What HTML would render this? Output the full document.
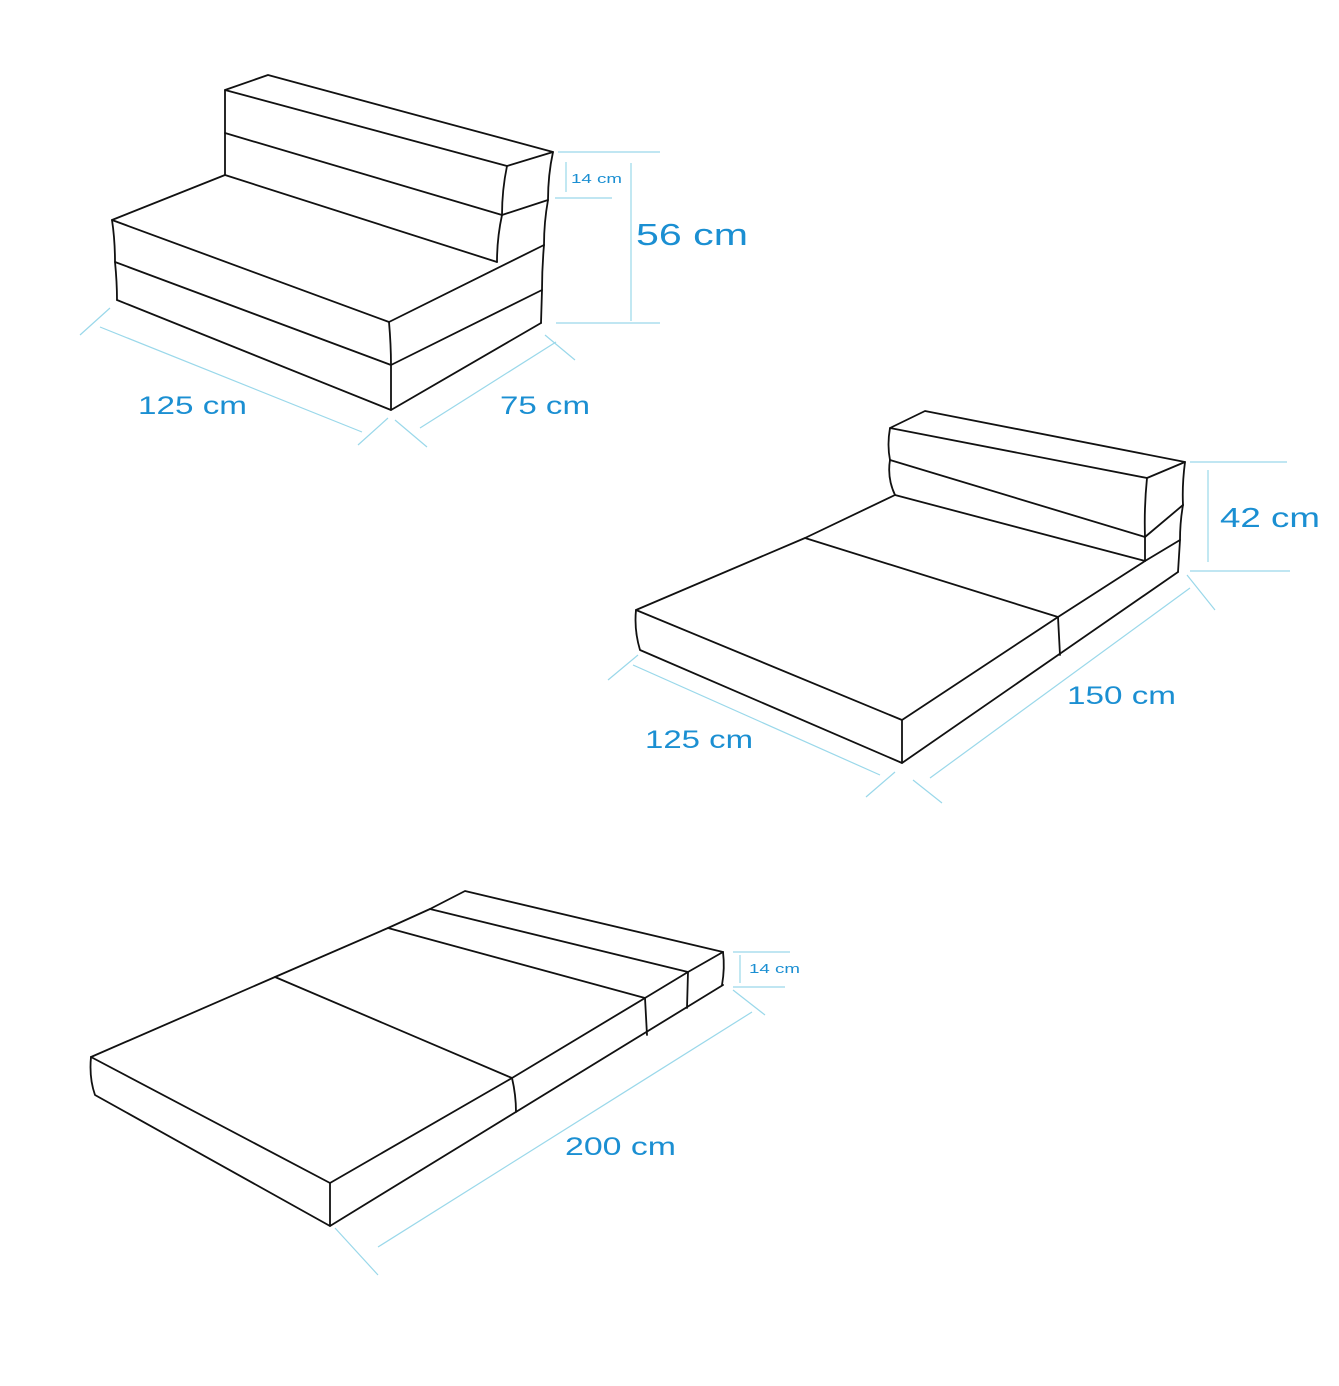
<!DOCTYPE html>
<html><head><meta charset="utf-8"><style>
html,body{margin:0;padding:0;background:#fff}
svg{display:block}
.k{fill:none;stroke:#111;stroke-width:1.8;stroke-linejoin:round;stroke-linecap:round}
.b{fill:none;stroke:#9ad8ea;stroke-width:1.2}
text{font-family:"Liberation Sans",sans-serif;fill:#1b8fd2}
</style></head><body>
<svg width="1339" height="1386" viewBox="0 0 1339 1386" xmlns="http://www.w3.org/2000/svg">
<g class="k">
<path d="M225,90 L268,75 L553,152 L507,166 Z"/>
<path d="M225,90 L225,133 L225,175"/>
<path d="M225,133 L502,215"/>
<path d="M225,175 L497,262"/>
<path d="M553,152 Q548,175 548,200 Q544,222 544,245"/>
<path d="M507,166 Q502,190 502,215 Q497,238 497,262"/>
<path d="M502,215 L548,200"/>
<path d="M225,175 L112,220 L389,322 L544,245"/>
<path d="M112,220 Q115,240 115,262 Q117,282 117,300"/>
<path d="M115,262 L391,365 L542,290"/>
<path d="M544,245 Q542,268 542,290 L541,323"/>
<path d="M117,300 L391,410 L541,323"/>
<path d="M389,322 Q391,345 391,365 L391,410"/>
</g>
<g class="b">
<path d="M558,152 L660,152 M555,198 L612,198 M566,162 L566,192"/>
<path d="M631,163 L631,321 M556,323 L660,323"/>
<path d="M100,327 L362,432 M80,335 L110,308 M358,445 L388,418"/>
<path d="M420,428 L556,342 M395,420 L427,447 M545,335 L575,360"/>
</g>
<text x="571" y="183" font-size="13" textLength="51" lengthAdjust="spacingAndGlyphs">14 cm</text>
<text x="636" y="245" font-size="31" textLength="112" lengthAdjust="spacingAndGlyphs">56 cm</text>
<text x="138" y="414" font-size="25" textLength="109" lengthAdjust="spacingAndGlyphs">125 cm</text>
<text x="500" y="414" font-size="25" textLength="90" lengthAdjust="spacingAndGlyphs">75 cm</text>

<g class="k">
<path d="M890,428 L925,411 L1185,462 L1147,478 Z"/>
<path d="M890,428 Q887,445 890,460 Q887,478 895,495"/>
<path d="M890,460 L1145,537"/>
<path d="M895,495 L1145,561"/>
<path d="M1185,462 Q1182,485 1183,505 Q1180,522 1180,540 L1178,572"/>
<path d="M1147,478 Q1144,508 1145,537 L1145,561"/>
<path d="M1145,537 L1183,505"/>
<path d="M1145,561 L1180,540"/>
<path d="M895,495 L805,538 L1058,617 L1145,561"/>
<path d="M805,538 L636,610 L902,720 L1058,617"/>
<path d="M636,610 Q634,630 640,650 L902,763 L1178,572"/>
<path d="M902,720 L902,763"/>
<path d="M1058,617 L1060,655"/>
</g>
<g class="b">
<path d="M1190,462 L1287,462 M1190,571 L1290,571 M1208,470 L1208,562"/>
<path d="M633,665 L880,775 M608,680 L638,655 M866,797 L895,772"/>
<path d="M930,778 L1190,588 M913,780 L942,803 M1187,575 L1215,610"/>
</g>
<text x="1220" y="527" font-size="28" textLength="100" lengthAdjust="spacingAndGlyphs">42 cm</text>
<text x="645" y="748" font-size="25" textLength="108" lengthAdjust="spacingAndGlyphs">125 cm</text>
<text x="1067" y="704" font-size="25" textLength="109" lengthAdjust="spacingAndGlyphs">150 cm</text>

<g class="k">
<path d="M91,1057 L275,977 L388,928 L430,909 L465,891 L723,952"/>
<path d="M91,1057 L330,1183 L512,1078 L645,998 L688,972 L723,952"/>
<path d="M275,977 L512,1078 M388,928 L645,998 M430,909 L688,972"/>
<path d="M91,1057 Q89,1078 95,1095 L330,1226 L723,985"/>
<path d="M723,952 Q725,968 722,985"/>
<path d="M330,1183 L330,1226"/>
<path d="M512,1078 Q516,1095 516,1112 M645,998 L647,1035 M688,972 L687,1008"/>
</g>
<g class="b">
<path d="M733,952 L790,952 M733,987 L785,987 M740,955 L740,983"/>
<path d="M378,1247 L752,1012 M335,1228 L378,1275 M733,990 L765,1015"/>
</g>
<text x="749" y="973" font-size="13" textLength="51" lengthAdjust="spacingAndGlyphs">14 cm</text>
<text x="565" y="1155" font-size="25" textLength="111" lengthAdjust="spacingAndGlyphs">200 cm</text>
</svg>
</body></html>
